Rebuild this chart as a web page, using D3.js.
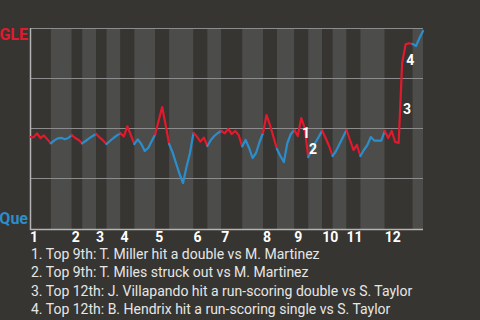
<!DOCTYPE html>
<html>
<head>
<meta charset="utf-8">
<script src="https://cdn.jsdelivr.net/npm/d3@7"></script>
<style>
  html, body { margin: 0; padding: 0; background: #363531; }
  svg { display: block; font-family: Roboto, "Noto Sans", sans-serif; }
</style>
</head>
<body>
<svg id="chart" width="480" height="320"></svg>
<script>
// Inning numbers shown along the bottom
const innings = [1, 2, 3, 4, 5, 6, 7, 8, 9, 10, 11, 12];

// Plate appearances in each half-inning (top, bottom, top, bottom, ...)
const halfInningEvents = [6, 6, 3, 4, 3, 4, 4, 6, 4, 7, 4, 4, 6, 6, 4, 5, 4, 4, 3, 4, 4, 7, 8, 3];

// GLE win probability (%) at game start and after every plate appearance
const gleWinProb = [
  45.5, 45.3, 47.3, 45.0, 46.3, 44.3, 42.3,
  43.8, 44.8, 45.1, 44.4, 45.0, 46.4,
  45.0, 44.0, 42.3,
  43.5, 44.8, 46.0, 47.0,
  45.3, 43.8, 42.0,
  43.5, 45.0, 46.3, 47.3,
  45.8, 50.8, 46.5, 42.0,
  44.3, 42.0, 38.5, 40.0, 43.5, 46.8,
  53.8, 60.5, 51.5, 42.0,
  37.8, 32.3, 27.0, 22.5, 30.5, 37.5, 47.5,
  45.7, 43.2, 45.2, 41.0,
  44.0, 46.0, 47.5, 48.5,
  47.3, 49.5, 47.0, 48.5, 46.5, 40.8,
  44.0, 40.0, 35.0, 37.5, 43.0, 47.5,
  56.5, 51.5, 45.5, 39.5,
  36.0, 33.0, 42.5, 47.0, 49.0,
  46.0, 55.0, 50.0, 35.5,
  38.5, 42.5, 45.5, 48.7,
  45.0, 41.0, 36.0,
  38.5, 42.0, 45.5, 49.0,
  44.0, 39.0, 41.5, 36.0,
  39.0, 41.5, 45.5, 43.7, 43.7, 43.7, 48.5,
  45.0, 48.5, 43.0, 42.5, 82.5, 91.8, 92.4, 92.0,
  91.0, 95.0, 98.5
];

// Key plays: the plate appearance index each one ends on, and its description
const keyPlayIndex = [78, 80, 107, 108];
const keyPlayText = [
  "Top 9th: T. Miller hit a double vs M. Martinez",
  "Top 9th: T. Miles struck out vs M. Martinez",
  "Top 12th: J. Villapando hit a run-scoring double vs S. Taylor",
  "Top 12th: B. Hendrix hit a run-scoring single vs S. Taylor"
];

const teamAway = "GLE";
const teamHome = "Que";
const gridValues = [25, 50, 75, 100];

const colors = {
  away: "#e3192d",
  home: "#2b8ecb",
  bandTop: "#363531",
  bandBottom: "#4c4c4b",
  grid: "#8c8c8c",
  axis: "#b4b4b4",
  text: "#e6e6e6"
};

const svg = d3.select("#chart");
const plot = { left: 30, right: 423, top: 28, bottom: 228 };

const nEvents = gleWinProb.length - 1;
const x = d3.scaleLinear().domain([0, nEvents]).range([plot.left, plot.right]);
const y = d3.scaleLinear().domain([0, 100]).range([plot.bottom, plot.top]);

// Starting plate-appearance index of each half-inning
const bounds = [0];
halfInningEvents.forEach(n => bounds.push(bounds[bounds.length - 1] + n));

// Half-inning bands
svg.append("g").selectAll("rect")
  .data(halfInningEvents)
  .join("rect")
  .attr("x", (d, i) => x(bounds[i]))
  .attr("width", (d, i) => x(bounds[i + 1]) - x(bounds[i]))
  .attr("y", plot.top)
  .attr("height", plot.bottom + 1 - plot.top)
  .attr("fill", (d, i) => i % 2 === 0 ? colors.bandTop : colors.bandBottom);

// Horizontal gridlines
svg.append("g").selectAll("line")
  .data(gridValues)
  .join("line")
  .attr("x1", plot.left).attr("x2", plot.right)
  .attr("y1", d => y(d) + 0.5).attr("y2", d => y(d) + 0.5)
  .attr("stroke", colors.grid)
  .attr("stroke-width", 1);

// Axes
svg.append("line")
  .attr("x1", plot.left + 0.5).attr("x2", plot.left + 0.5)
  .attr("y1", plot.top).attr("y2", plot.bottom + 2)
  .attr("stroke", colors.axis).attr("stroke-width", 1.5);
svg.append("line")
  .attr("x1", plot.left).attr("x2", plot.right)
  .attr("y1", plot.bottom + 1.5).attr("y2", plot.bottom + 1.5)
  .attr("stroke", colors.axis).attr("stroke-width", 1.5);

// Win probability line, one piece per half-inning, coloured by batting team
const line = d3.line()
  .x(d => x(d.i))
  .y(d => y(d.p));

const points = gleWinProb.map((p, i) => ({ i, p }));
svg.append("g").selectAll("path")
  .data(halfInningEvents.map((n, h) => ({ h, pts: points.slice(bounds[h], bounds[h + 1] + 1) })))
  .join("path")
  .attr("d", d => line(d.pts))
  .attr("fill", "none")
  .attr("stroke", d => d.h % 2 === 0 ? colors.away : colors.home)
  .attr("stroke-width", 2.2)
  .attr("stroke-linejoin", "round")
  .attr("stroke-linecap", "round");

// Team labels at the ends of the probability axis
svg.append("text")
  .attr("x", 28).attr("y", y(100) + 11.5)
  .attr("text-anchor", "end")
  .attr("font-size", 16).attr("font-weight", "bold")
  .attr("fill", colors.away)
  .text(teamAway);
svg.append("text")
  .attr("x", 28).attr("y", y(0) - 4)
  .attr("text-anchor", "end")
  .attr("font-size", 16).attr("font-weight", "bold")
  .attr("fill", colors.home)
  .text(teamHome);

// Inning labels at the start of each inning
svg.append("g").selectAll("text")
  .data(innings)
  .join("text")
  .attr("x", (d, i) => x(bounds[i * 2]))
  .attr("y", 241.5)
  .attr("font-size", 14).attr("font-weight", "bold")
  .attr("fill", "#ffffff")
  .text(d => d);

// Key play markers next to their segments
svg.append("g").selectAll("text")
  .data(keyPlayIndex)
  .join("text")
  .attr("x", d => (x(d - 1) + x(d)) / 2 + 2.5)
  .attr("y", d => (y(gleWinProb[d - 1]) + y(gleWinProb[d])) / 2 + 11)
  .attr("font-size", 14).attr("font-weight", "bold")
  .attr("fill", "#ffffff")
  .text((d, i) => i + 1);

// Key play descriptions
svg.append("g").selectAll("text")
  .data(keyPlayText)
  .join("text")
  .attr("x", 31)
  .attr("y", (d, i) => 258.5 + i * 18.5)
  .attr("font-size", 14)
  .attr("fill", colors.text)
  .text((d, i) => `${i + 1}. ${d}`);
</script>
</body>
</html>
